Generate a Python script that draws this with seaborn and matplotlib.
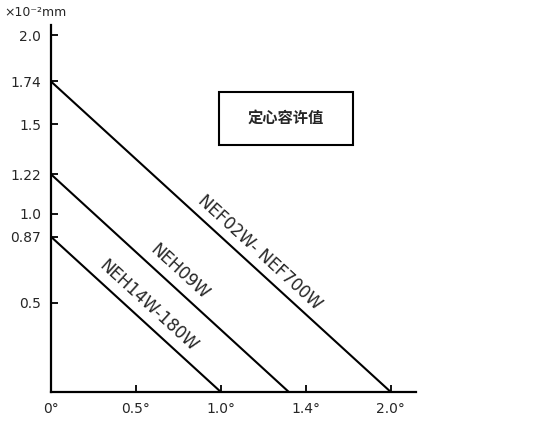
import matplotlib
matplotlib.use("Agg")
import matplotlib.pyplot as plt
import seaborn as sns
import pandas as pd

sns.set_style("white")
plt.rcParams['font.family'] = ['DejaVu Sans', 'Noto Sans CJK SC']

series = ["NEF02W- NEF700W", "NEH09W", "NEH14W-180W"]
y_intercepts = [1.74, 1.22, 0.87]
x_intercepts = [2.0, 1.4, 1.0]
yticks = [0.5, 0.87, 1.0, 1.22, 1.5, 1.74, 2.0]
ytick_labels = ["0.5", "0.87", "1.0", "1.22", "1.5", "1.74", "2.0"]
xticks = [0, 0.5, 1.0, 1.5, 2.0]
xtick_labels = ["0°", "0.5°", "1.0°", "1.4°", "2.0°"]

rows = []
for s, y0, x0 in zip(series, y_intercepts, x_intercepts):
    rows += [dict(s=s, x=0, y=y0), dict(s=s, x=x0, y=0)]
df = pd.DataFrame(rows)

fig = plt.figure(figsize=(5.5, 4.25), dpi=100)
ax = fig.add_axes([0.0927, 0.0776, 0.6633, 0.8634])
sns.lineplot(data=df, x="x", y="y", units="s", estimator=None, color="black", lw=1.5, ax=ax)
ax.set_xlim(0, 2.147)
ax.set_ylim(0, 2.056)
ax.set_xticks(xticks)
ax.set_xticklabels(xtick_labels, fontsize=10)
ax.set_yticks(yticks)
ax.set_yticklabels(ytick_labels, fontsize=10)
ax.tick_params(direction="in", length=5, width=1.3, left=True, bottom=True, color="black", pad=7)
for sp in ["top", "right"]:
    ax.spines[sp].set_visible(False)
for sp in ["left", "bottom"]:
    ax.spines[sp].set_linewidth(1.6)
    ax.spines[sp].set_color("black")
ax.set_xlabel("")
ax.set_ylabel("")

label_pos = [(260, 253), (180, 272), (148, 306)]
for s, (px, py) in zip(series, label_pos):
    fig.text(px / 550, 1 - py / 425, s, rotation=-42.4, ha="center", va="center",
             fontsize=12, rotation_mode="anchor")

fig.text(4 / 550, 1 - 13 / 425, "×10⁻²mm", fontsize=9, va="center", ha="left")
fig.text(286 / 550, 1 - 118 / 425, "定心容许值", fontsize=11, ha="center", va="center",
         family=['Noto Sans CJK SC'], weight="bold")
fig.patches.append(plt.Rectangle((219 / 550, 1 - 145 / 425), 134 / 550, 53 / 425,
                                 transform=fig.transFigure, fill=False, lw=1.5, ec="black"))
fig.savefig("out.png", dpi=100)
